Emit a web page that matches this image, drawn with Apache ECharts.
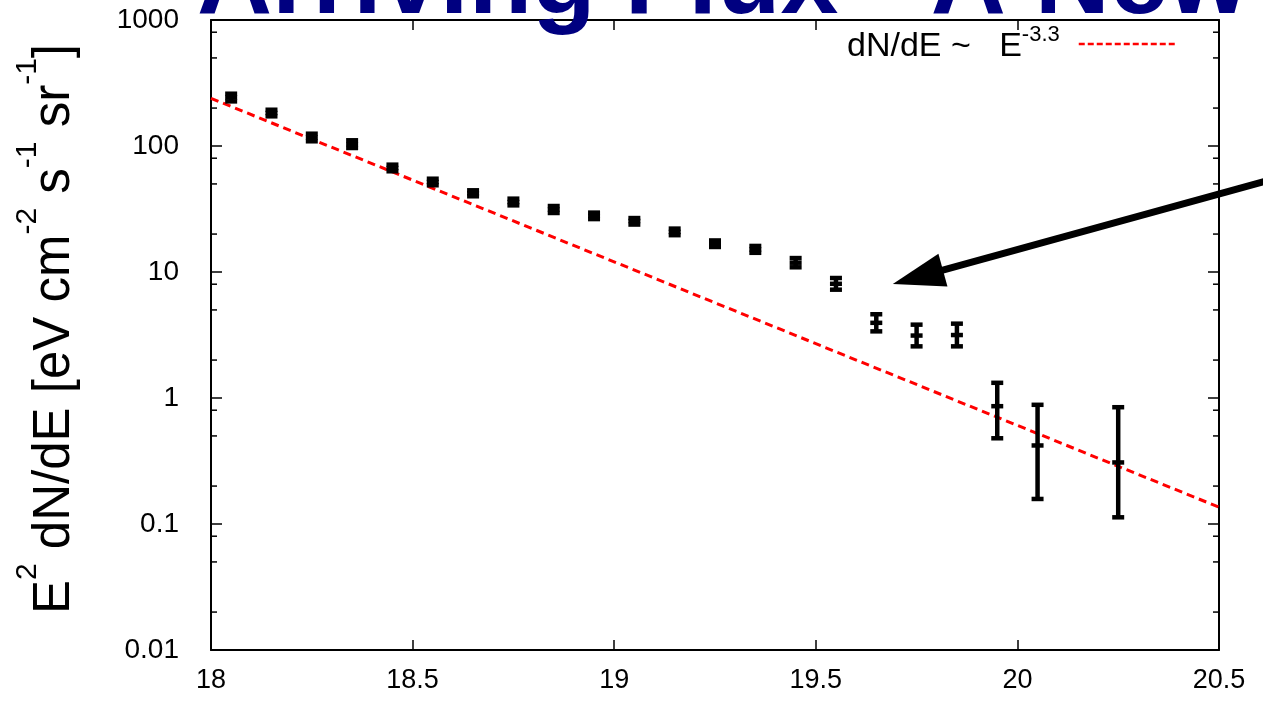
<!DOCTYPE html>
<html>
<head>
<meta charset="utf-8">
<script src="https://cdn.jsdelivr.net/npm/echarts@6/dist/echarts.min.js"></script>
<style>
  html, body { margin: 0; padding: 0; background: #fff; }
  #chart { width: 1263px; height: 701px; }
</style>
</head>
<body>
<div id="chart"></div>
<script>
// log10(E/eV) bin centres
const logE = [18.05, 18.15, 18.25, 18.35, 18.45, 18.55, 18.65, 18.75, 18.85, 18.95, 19.05,
              19.15, 19.25, 19.35, 19.45, 19.55, 19.65, 19.75, 19.85, 19.95, 20.05, 20.25];
// E^2 dN/dE and its error band
const flux   = [242.6, 182.8, 116.8, 103.3, 66.9, 51.8, 42.1, 35.9, 31.3, 27.8, 25.4,
                20.8, 16.8, 15.1, 11.85, 8.06, 3.95, 3.13, 3.16, 0.861, 0.420, 0.308];
const fluxLo = [226, 172, 109.0, 96.4, 63.0, 48.8, 39.9, 33.8, 29.4, 26.3, 23.8,
                19.6, 15.8, 14.2, 10.9, 7.24, 3.38, 2.57, 2.57, 0.479, 0.158, 0.113];
const fluxHi = [260, 194, 125.2, 111, 71.1, 55.0, 44.5, 38.2, 33.4, 29.6, 26.8,
                22.1, 17.8, 16.1, 12.9, 8.96, 4.62, 3.82, 3.89, 1.32, 0.883, 0.845];

// power-law reference line dN/dE ~ E^-3.3 (end points)
const fitE = [18, 20.5];
const fitFlux = [239, 0.136];

// axis ticks
const xTickLabels = ['18', '18.5', '19', '19.5', '20', '20.5'];
const yTickLabels = ['0.01', '0.1', '1', '10', '100', '1000'];
const yMinorTicks = [0.02, 0.05, 0.08, 0.2, 0.5, 0.8, 2, 5, 8, 20, 50, 80, 200, 500, 800];

// annotation arrow (tail, head) in data coordinates
const arrowTail = [20.676, 59.4];
const arrowHead = [19.691, 8.03];

const FONT = '"Liberation Sans", Arial, Helvetica, sans-serif';

const chart = echarts.init(document.getElementById('chart'), null, { renderer: 'canvas' });

function axisCommon() {
  return {
    axisLine: { onZero: false, lineStyle: { color: '#000', width: 2 } },
    splitLine: { show: false },
    minorSplitLine: { show: false }
  };
}

function renderErrorBar(params, api) {
  const x = api.value(0);
  const pc = api.coord([x, api.value(1)]);
  const pl = api.coord([x, api.value(2)]);
  const ph = api.coord([x, api.value(3)]);
  const hw = 6;
  const st = { stroke: '#000', lineWidth: 4.5, fill: null };
  return {
    type: 'group',
    children: [
      { type: 'line', shape: { x1: pc[0], y1: ph[1], x2: pc[0], y2: pl[1] }, style: st },
      { type: 'line', shape: { x1: pc[0] - hw, y1: ph[1], x2: pc[0] + hw, y2: ph[1] }, style: st },
      { type: 'line', shape: { x1: pc[0] - hw, y1: pl[1], x2: pc[0] + hw, y2: pl[1] }, style: st },
      { type: 'line', shape: { x1: pc[0] - hw, y1: pc[1], x2: pc[0] + hw, y2: pc[1] }, style: st }
    ]
  };
}

function renderMinorTick(params, api) {
  const c = api.coord([api.value(0), api.value(1)]);
  const cs = params.coordSys;
  const st = { stroke: '#000', lineWidth: 1.5 };
  return {
    type: 'group',
    children: [
      { type: 'line', shape: { x1: cs.x, y1: c[1], x2: cs.x + 6, y2: c[1] }, style: st },
      { type: 'line', shape: { x1: cs.x + cs.width - 6, y1: c[1], x2: cs.x + cs.width, y2: c[1] }, style: st }
    ]
  };
}

const option = {
  backgroundColor: '#fff',
  animation: false,
  textStyle: { fontFamily: FONT },
  grid: { left: 211, right: 44, top: 20, bottom: 51, containLabel: false },
  legend: {
    data: ['dN/dE ~ E^-3.3'],
    right: 86,
    top: 22,
    padding: 0,
    align: 'right',
    itemWidth: 97,
    itemHeight: 10,
    selectedMode: false,
    itemStyle: { opacity: 0 },
    lineStyle: { type: [6, 3], width: 2.5 },
    formatter: () => '{t|dN/dE ~   E}{s|-3.3}{g| }',
    textStyle: {
      color: '#000',
      rich: {
        t: { fontSize: 34, lineHeight: 44, padding: [6, 0, 0, 0], fontFamily: FONT, color: '#000' },
        s: { fontSize: 22, lineHeight: 22, verticalAlign: 'top', padding: [2, 0, 0, 0], fontFamily: FONT, color: '#000' },
        g: { width: 14, fontSize: 10 }
      }
    }
  },
  xAxis: [
    Object.assign(axisCommon(), {
      type: 'value', position: 'bottom', min: 18, max: 20.5, interval: 0.5,
      axisTick: { inside: true, length: 10, lineStyle: { color: '#000', width: 1.5 } },
      axisLabel: {
        margin: 17, fontSize: 27, color: '#000', fontFamily: FONT,
        formatter: (v, i) => xTickLabels[i]
      }
    }),
    Object.assign(axisCommon(), {
      type: 'value', position: 'top', min: 18, max: 20.5, interval: 0.5,
      axisTick: { inside: true, length: 10, lineStyle: { color: '#000', width: 1.5 } },
      axisLabel: { show: false }
    })
  ],
  yAxis: [
    Object.assign(axisCommon(), {
      type: 'log', logBase: 10, position: 'left', min: 0.01, max: 1000,
      axisTick: { inside: true, length: 11, lineStyle: { color: '#000', width: 1.5 } },
      axisLabel: {
        margin: 32, fontSize: 28, color: '#000', fontFamily: FONT,
        formatter: (v, i) => yTickLabels[i]
      }
    }),
    Object.assign(axisCommon(), {
      type: 'log', logBase: 10, position: 'right', min: 0.01, max: 1000,
      axisTick: { inside: true, length: 11, lineStyle: { color: '#000', width: 1.5 } },
      axisLabel: { show: false }
    })
  ],
  series: [
    {
      name: 'dN/dE ~ E^-3.3',
      type: 'line',
      xAxisIndex: 0, yAxisIndex: 0,
      data: fitE.map((e, i) => [e, fitFlux[i]]),
      symbol: 'none',
      lineStyle: { color: '#ff0000', width: 3, type: [8, 5] },
      itemStyle: { color: '#ff0000' },
      z: 3
    },
    {
      name: 'flux',
      type: 'custom',
      xAxisIndex: 0, yAxisIndex: 0,
      renderItem: renderErrorBar,
      encode: { x: 0, y: [1, 2, 3] },
      data: logE.map((e, i) => [e, flux[i], fluxLo[i], fluxHi[i]]),
      z: 4
    },
    {
      name: 'minorTicks',
      type: 'custom',
      xAxisIndex: 0, yAxisIndex: 0,
      renderItem: renderMinorTick,
      encode: { x: 0, y: 1 },
      silent: true,
      data: yMinorTicks.map(v => [18, v]),
      z: 5
    }
  ]
};

chart.setOption(option);

// overlay: axis title, slide heading and annotation arrow (arrow placed from data coordinates)
const pTail = chart.convertToPixel({ gridIndex: 0 }, arrowTail);
const pHead = chart.convertToPixel({ gridIndex: 0 }, arrowHead);
const dx = pTail[0] - pHead[0], dy = pTail[1] - pHead[1];
const len = Math.sqrt(dx * dx + dy * dy);
const ux = dx / len, uy = dy / len;
const headLen = 52, headHalf = 17;
const bx = pHead[0] + ux * headLen, by = pHead[1] + uy * headLen;

chart.setOption({
  graphic: [
    {
      id: 'yTitle',
      type: 'text',
      x: 55, y: 329,
      rotation: Math.PI / 2,
      z: 50,
      style: {
        text: '{b|E}{s|2}{b| dN/dE [eV cm}{s|-2}{b| s}{s|-1}{b| sr}{s|-1}{b|]}',
        align: 'center',
        verticalAlign: 'middle',
        fill: '#000',
        rich: {
          b: { fontSize: 51, lineHeight: 84, fontFamily: FONT, fill: '#000' },
          s: { fontSize: 30, lineHeight: 30, verticalAlign: 'top', fontFamily: FONT, fill: '#000' }
        }
      }
    },
    {
      id: 'heading',
      type: 'text',
      x: 197, y: -16,
      z: 100,
      style: {
        text: 'Arriving Flux - A New',
        fontSize: 104,
        fontWeight: 'bold',
        fontFamily: FONT,
        fill: '#000080',
        align: 'left',
        verticalAlign: 'middle'
      }
    },
    {
      id: 'arrowShaft',
      type: 'line', z: 60,
      shape: { x1: pTail[0], y1: pTail[1], x2: bx - ux * 2, y2: by - uy * 2 },
      style: { stroke: '#000', lineWidth: 7 }
    },
    {
      id: 'arrowHead',
      type: 'polygon', z: 60,
      shape: { points: [[pHead[0], pHead[1]], [bx - uy * headHalf, by + ux * headHalf], [bx + uy * headHalf, by - ux * headHalf]] },
      style: { fill: '#000' }
    }
  ]
});
</script>
</body>
</html>
